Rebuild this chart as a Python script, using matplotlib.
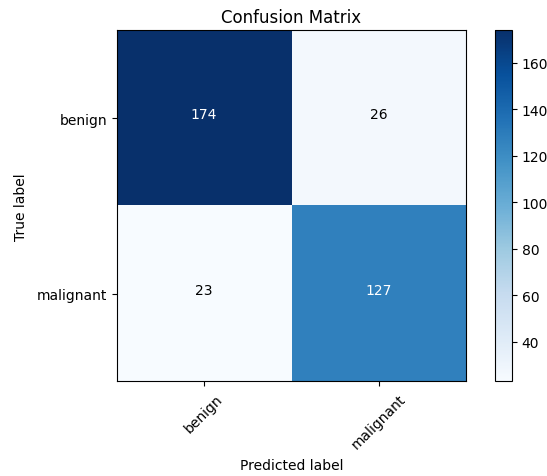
import numpy as np
import matplotlib.pyplot as plt

# class names and counts
classes = ['benign', 'malignant']
cm = np.array([[174, 26],
               [23, 127]])

fig = plt.figure(figsize=(5.47, 4.77), dpi=100)
ax = fig.add_axes([116.7 / 547, 1 - 382.3 / 477, 349.6 / 547, 351 / 477])
cax = fig.add_axes([494.5 / 547, 1 - 382.3 / 477, 17.5 / 547, 351 / 477])

im = ax.imshow(cm, interpolation='nearest', cmap=plt.cm.Blues, aspect='auto')
ax.set_title('Confusion Matrix')
fig.colorbar(im, cax=cax)

ticks = np.arange(len(classes))
ax.set_xticks(ticks)
ax.set_xticklabels(classes, rotation=45)
ax.set_yticks(ticks)
ax.set_yticklabels(classes)

thresh = cm.max() / 2.
for i in range(cm.shape[0]):
    for j in range(cm.shape[1]):
        ax.text(j, i, format(cm[i, j], 'd'),
                horizontalalignment='center',
                color='white' if cm[i, j] > thresh else 'black')

ax.set_ylabel('True label', labelpad=6.5)
ax.set_xlabel('Predicted label', labelpad=5.5)

fig.savefig('out.png', dpi=100)
